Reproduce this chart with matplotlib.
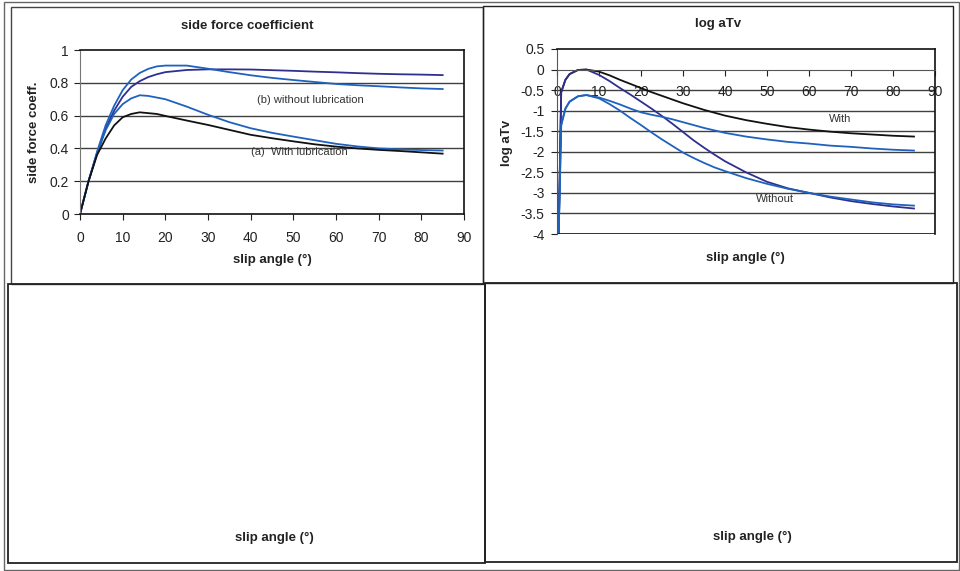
import matplotlib
matplotlib.use("Agg")
import matplotlib.pyplot as plt
from matplotlib.patches import Rectangle

plt.rcParams['font.family'] = ['Liberation Sans', 'DejaVu Sans']

# side force coefficient
sf_x = [0, 2, 4, 6, 8, 10, 12, 14, 16, 18, 20, 25, 30, 35, 40, 45, 50, 55, 60, 65, 70, 75, 80, 85]
sf_without_1 = [0, 0.2, 0.37, 0.52, 0.63, 0.715, 0.775, 0.81, 0.835, 0.852, 0.865, 0.878, 0.882, 0.882, 0.881, 0.877, 0.873, 0.868, 0.864, 0.859, 0.855, 0.852, 0.85, 0.847]
sf_without_2 = [0, 0.2, 0.38, 0.54, 0.66, 0.755, 0.82, 0.86, 0.885, 0.9, 0.905, 0.905, 0.886, 0.865, 0.846, 0.83, 0.817, 0.805, 0.793, 0.785, 0.779, 0.772, 0.766, 0.762]
sf_with_2 = [0, 0.2, 0.37, 0.51, 0.61, 0.67, 0.705, 0.724, 0.72, 0.71, 0.7, 0.655, 0.605, 0.56, 0.523, 0.495, 0.472, 0.45, 0.428, 0.412, 0.4, 0.394, 0.39, 0.387]
sf_with_1 = [0, 0.2, 0.36, 0.46, 0.54, 0.59, 0.61, 0.62, 0.615, 0.61, 0.598, 0.57, 0.543, 0.513, 0.483, 0.462, 0.443, 0.425, 0.411, 0.4, 0.391, 0.384, 0.376, 0.368]

# log aTv
la_x = [0.4, 1, 2, 3, 5, 7, 10, 12.5, 15, 17.5, 20, 22.5, 25, 27.5, 30, 32.5, 35, 37.5, 40, 45, 50, 55, 60, 65, 70, 75, 80, 85]
la_with_1 = [-4, -0.55, -0.25, -0.11, -0.01, 0, -0.05, -0.14, -0.25, -0.35, -0.45, -0.55, -0.64, -0.73, -0.82, -0.9, -0.98, -1.05, -1.12, -1.23, -1.32, -1.4, -1.46, -1.51, -1.55, -1.58, -1.61, -1.63]
la_without_1 = [-4, -0.55, -0.25, -0.11, -0.01, 0, -0.13, -0.28, -0.45, -0.61, -0.78, -0.95, -1.13, -1.32, -1.52, -1.72, -1.9, -2.07, -2.23, -2.5, -2.73, -2.89, -3.0, -3.11, -3.2, -3.27, -3.33, -3.38]
la_with_2 = [-4, -1.35, -0.95, -0.78, -0.65, -0.62, -0.68, -0.76, -0.85, -0.95, -1.04, -1.1, -1.15, -1.21, -1.28, -1.35, -1.42, -1.48, -1.54, -1.63, -1.7, -1.76, -1.8, -1.85, -1.88, -1.92, -1.95, -1.97]
la_without_2 = [-4, -1.35, -0.95, -0.78, -0.65, -0.62, -0.7, -0.84, -1.0, -1.18, -1.35, -1.53, -1.7, -1.86, -2.02, -2.15, -2.27, -2.38, -2.47, -2.64, -2.78, -2.9, -3.0, -3.09, -3.16, -3.23, -3.28, -3.31]

NAVY = '#2F2F8F'
BLUE = '#1F62BE'
GRID = '#404040'
TXT = '#222222'

fig = plt.figure(figsize=(9.6, 5.71), dpi=100)
W, H = 960.0, 571.0


def box(x0, y0, x1, y1, color='#333333', lw=1.0):
    fig.add_artist(Rectangle((x0 / W, 1 - y1 / H), (x1 - x0) / W, (y1 - y0) / H,
                             transform=fig.transFigure, fill=False,
                             edgecolor=color, linewidth=lw))


def ftext(x, y, s, **kw):
    fig.text(x / W, 1 - y / H, s, ha='center', va='center', color=TXT, **kw)


# frames
box(4, 2, 959, 570, color='#666666')
box(11, 7, 483, 284, color='#444444')
box(483, 6, 953, 283, color='#222222')
box(8, 284, 485, 563, color='#222222', lw=1.3)
box(485, 283, 957, 562, color='#222222', lw=1.3)

# ---- side force coefficient ----
ax1 = fig.add_axes([80 / W, 1 - 214 / H, 384 / W, 164 / H])
ax1.plot(sf_x, sf_without_1, color=NAVY, lw=1.3)
ax1.plot(sf_x, sf_without_2, color=BLUE, lw=1.3)
ax1.plot(sf_x, sf_with_2, color=BLUE, lw=1.3)
ax1.plot(sf_x, sf_with_1, color='#111111', lw=1.3)
ax1.set_xlim(0, 90)
ax1.set_ylim(0, 1)
ax1.set_xticks(range(0, 91, 10))
ax1.set_yticks([0, 0.2, 0.4, 0.6, 0.8, 1])
ax1.set_yticklabels(['0', '0.2', '0.4', '0.6', '0.8', '1'])
for y in [0.2, 0.4, 0.6, 0.8]:
    ax1.axhline(y, color=GRID, lw=1.0, zorder=0)
ax1.tick_params(axis='x', direction='out', length=4.5, pad=8, labelsize=10, colors=TXT)
ax1.tick_params(axis='y', direction='out', length=4, pad=4, labelsize=10, colors=TXT)
ax1.spines['left'].set_color('#777777')
for s in ['top', 'right', 'bottom']:
    ax1.spines[s].set_color('#111111')
    ax1.spines[s].set_linewidth(1.2)
ax1.text(54, 0.695, '(b) without lubrication', ha='center', va='center', fontsize=8, color='#333333')
ax1.text(51.5, 0.378, '(a)  With lubrication', ha='center', va='center', fontsize=8, color='#333333')

ftext(247, 26, 'side force coefficient', fontsize=9.5, fontweight='bold')
ftext(34, 132, 'side force coeff.', fontsize=9.5, fontweight='bold', rotation=90)
ftext(272, 260, 'slip angle (°)', fontsize=9.5, fontweight='bold')

# ---- log aTv ----
ax2 = fig.add_axes([557 / W, 1 - 234 / H, 378 / W, 185 / H])
ax2.plot(la_x, la_with_1, color='#111111', lw=1.3)
ax2.plot(la_x, la_without_1, color=NAVY, lw=1.3)
ax2.plot(la_x, la_with_2, color=BLUE, lw=1.3)
ax2.plot(la_x, la_without_2, color=BLUE, lw=1.3)
ax2.set_xlim(0, 90)
ax2.set_ylim(-4, 0.5)
ax2.set_xticks(range(0, 91, 10))
ax2.set_yticks([-4, -3.5, -3, -2.5, -2, -1.5, -1, -0.5, 0, 0.5])
ax2.set_yticklabels(['-4', '-3.5', '-3', '-2.5', '-2', '-1.5', '-1', '-0.5', '0', '0.5'])
for y in [-3.5, -3, -2.5, -2, -1.5, -1, -0.5]:
    ax2.axhline(y, color=GRID, lw=1.0, zorder=0)
ax2.axhline(-4, color='#111111', lw=1.2)
ax2.spines['bottom'].set_position(('data', 0))
ax2.spines['bottom'].set_color('#555555')
ax2.spines['left'].set_color('#555555')
for s in ['top', 'right']:
    ax2.spines[s].set_color('#111111')
    ax2.spines[s].set_linewidth(1.2)
ax2.tick_params(axis='x', direction='out', length=4, pad=7, labelsize=10, colors=TXT)
ax2.tick_params(axis='y', direction='out', length=4, pad=5, labelsize=10, colors=TXT)
ax2.text(67.5, -1.2, 'With', ha='center', va='center', fontsize=8, color='#333333')
ax2.text(52, -3.16, 'Without', ha='center', va='center', fontsize=8, color='#333333')

ftext(718, 24, 'log aTv', fontsize=9.5, fontweight='bold')
ftext(507, 143, 'log aTv', fontsize=9.5, fontweight='bold', rotation=90)
ftext(745, 258, 'slip angle (°)', fontsize=9.5, fontweight='bold')

# empty lower panels
ftext(274, 538, 'slip angle (°)', fontsize=9.5, fontweight='bold')
ftext(752, 537, 'slip angle (°)', fontsize=9.5, fontweight='bold')

fig.savefig('out.png', dpi=100)
